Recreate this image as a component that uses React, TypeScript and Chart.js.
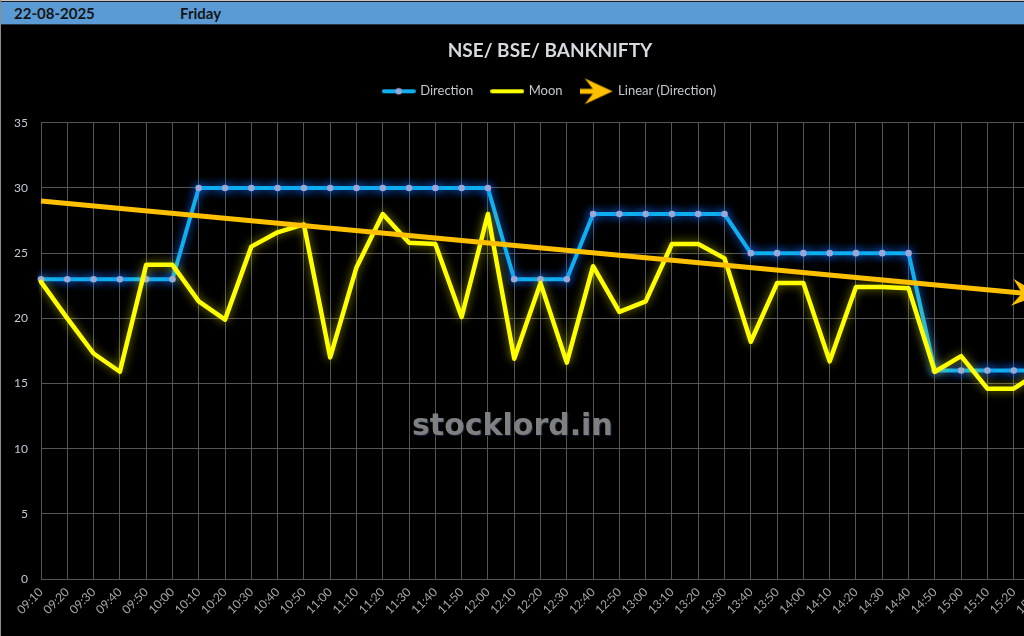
import React, { useEffect, useRef } from "react";
import { Chart, registerables } from "chart.js";

Chart.register(...registerables);

// ---------- data ----------
const headerDate = "22-08-2025";
const headerDay = "Friday";
const chartTitle = "NSE/ BSE/ BANKNIFTY";
const watermark = "stocklord.in";

const times = [
  "09:10", "09:20", "09:30", "09:40", "09:50",
  "10:00", "10:10", "10:20", "10:30", "10:40", "10:50",
  "11:00", "11:10", "11:20", "11:30", "11:40", "11:50",
  "12:00", "12:10", "12:20", "12:30", "12:40", "12:50",
  "13:00", "13:10", "13:20", "13:30", "13:40", "13:50",
  "14:00", "14:10", "14:20", "14:30", "14:40", "14:50",
  "15:00", "15:10", "15:20", "15:30",
];

const direction = [
  23, 23, 23, 23, 23,
  23, 30, 30, 30, 30, 30,
  30, 30, 30, 30, 30, 30,
  30, 23, 23, 23, 28, 28,
  28, 28, 28, 28, 25, 25,
  25, 25, 25, 25, 25, 16,
  16, 16, 16, 16,
];

const moon = [
  22.8, 20.0, 17.3, 15.9, 24.1,
  24.1, 21.3, 19.9, 25.5, 26.6, 27.2,
  17.0, 23.9, 28.0, 25.8, 25.7, 20.1,
  28.0, 16.9, 22.7, 16.6, 24.0, 20.5,
  21.3, 25.7, 25.7, 24.6, 18.2, 22.7,
  22.7, 16.7, 22.4, 22.4, 22.3, 15.9,
  17.1, 14.6, 14.6, 15.9,
];

// linear trend of Direction: value at first and last category
const trendEnds = [29.0, 21.8];

const yMin = 0;
const yMax = 35;
const yStep = 5;

const seriesNames = ["Direction", "Moon", "Linear (Direction)"];

// ---------- styles ----------
const BLUE = "#0fb0ef";
const MARKER = "#9aa6d6";
const YELLOW = "#ffff00";
const ORANGE = "#ffc000";
const GRID = "#555555";
const glowColors: Record<number, string> = {
  0: "rgba(20,110,255,0.95)",
  1: "rgba(255,255,0,0.55)",
};

function makeIcon(kind: number): HTMLCanvasElement {
  const c = document.createElement("canvas");
  if (kind === 2) {
    c.width = 34;
    c.height = 28;
    const ctx = c.getContext("2d")!;
    ctx.fillStyle = ORANGE;
    ctx.strokeStyle = ORANGE;
    ctx.lineWidth = 5;
    ctx.beginPath();
    ctx.moveTo(0, 14);
    ctx.lineTo(16, 14);
    ctx.stroke();
    ctx.beginPath();
    ctx.moveTo(33, 14);
    ctx.lineTo(5, 1);
    ctx.lineTo(15, 14);
    ctx.lineTo(5, 27);
    ctx.closePath();
    ctx.fill();
    return c;
  }
  c.width = 34;
  c.height = 12;
  const ctx = c.getContext("2d")!;
  ctx.strokeStyle = kind === 0 ? BLUE : YELLOW;
  ctx.lineWidth = 4;
  ctx.lineCap = "round";
  ctx.beginPath();
  ctx.moveTo(2, 6);
  ctx.lineTo(32, 6);
  ctx.stroke();
  if (kind === 0) {
    ctx.fillStyle = MARKER;
    ctx.beginPath();
    ctx.arc(17, 6, 3.3, 0, Math.PI * 2);
    ctx.fill();
  }
  return c;
}

const glowPlugin = {
  id: "glow",
  beforeDatasetDraw(chart: any, args: any) {
    const g = glowColors[args.index];
    if (!g) return;
    const ctx = chart.ctx;
    ctx.save();
    ctx.shadowColor = g;
    ctx.shadowBlur = 10;
  },
  afterDatasetDraw(chart: any, args: any) {
    if (!glowColors[args.index]) return;
    chart.ctx.restore();
  },
};

const arrowPlugin = {
  id: "trendArrow",
  afterDatasetsDraw(chart: any) {
    const meta = chart.getDatasetMeta(2);
    const pts = meta.data;
    if (!pts || pts.length < 2) return;
    const a = pts[0];
    const b = pts[pts.length - 1];
    const dx = b.x - a.x;
    const dy = b.y - a.y;
    const len = Math.hypot(dx, dy) || 1;
    const ux = dx / len;
    const uy = dy / len;
    const nx = -uy;
    const ny = ux;
    const L = 28;
    const H = 13.5;
    const N = 18;
    const ctx = chart.ctx;
    ctx.save();
    ctx.fillStyle = ORANGE;
    ctx.beginPath();
    ctx.moveTo(b.x, b.y);
    ctx.lineTo(b.x - L * ux + H * nx, b.y - L * uy + H * ny);
    ctx.lineTo(b.x - N * ux, b.y - N * uy);
    ctx.lineTo(b.x - L * ux - H * nx, b.y - L * uy - H * ny);
    ctx.closePath();
    ctx.fill();
    ctx.restore();
  },
};

export default function App() {
  const ref = useRef<HTMLCanvasElement>(null);

  useEffect(() => {
    if (!ref.current) return;
    Chart.defaults.font.family = "Lato";
    const icons = [makeIcon(0), makeIcon(1), makeIcon(2)];
    const lastIdx = times.length - 1;
    const trendData = times.map((_, i) =>
      i === 0 ? trendEnds[0] : i === lastIdx ? trendEnds[1] : null
    );

    const chart = new Chart(ref.current, {
      type: "line",
      data: {
        labels: times,
        datasets: [
          {
            label: seriesNames[0],
            data: direction,
            borderColor: BLUE,
            backgroundColor: BLUE,
            borderWidth: 4,
            borderJoinStyle: "round",
            borderCapStyle: "round",
            pointRadius: 3.3,
            pointBackgroundColor: MARKER,
            pointBorderColor: MARKER,
            pointBorderWidth: 0,
            tension: 0,
            order: 2,
          },
          {
            label: seriesNames[1],
            data: moon,
            borderColor: YELLOW,
            backgroundColor: YELLOW,
            borderWidth: 4.5,
            borderJoinStyle: "round",
            borderCapStyle: "round",
            pointRadius: 0,
            tension: 0,
            order: 1,
          },
          {
            label: seriesNames[2],
            data: trendData,
            borderColor: ORANGE,
            backgroundColor: ORANGE,
            borderWidth: 5,
            pointRadius: 0,
            spanGaps: true,
            tension: 0,
            order: 0,
          },
        ],
      } as any,
      options: {
        responsive: false,
        devicePixelRatio: 1,
        animation: false,
        events: [],
        layout: { padding: 0 },
        plugins: {
          tooltip: { enabled: false },
          title: {
            display: true,
            text: chartTitle,
            color: "#d6d9de",
            font: { family: "Lato", size: 19, weight: "bold", lineHeight: 1.2 },
            padding: { top: 14, bottom: 4 },
          },
          subtitle: {
            display: true,
            text: "",
            position: "top",
            weight: 500,
            font: { size: 15, lineHeight: 1 },
            padding: 0,
          } as any,
          legend: {
            display: true,
            position: "top",
            labels: {
              usePointStyle: true,
              pointStyleWidth: 30,
              padding: 19,
              color: "#c3c7ce",
              font: { family: "Lato", size: 13 },
              sort: (a: any, b: any) => a.datasetIndex - b.datasetIndex,
              generateLabels: (ch: any) => {
                const items = (Chart.defaults.plugins.legend.labels as any).generateLabels(ch);
                return items.map((it: any) => ({ ...it, pointStyle: icons[it.datasetIndex] }));
              },
            },
          },
        },
        scales: {
          x: {
            type: "category",
            offset: false,
            grid: { color: GRID, lineWidth: 1, drawTicks: false },
            border: { color: GRID },
            ticks: {
              color: "#a6a6a6",
              font: { family: "Lato", size: 12 },
              maxRotation: 45,
              minRotation: 45,
              autoSkip: false,
              padding: 6,
            },
            afterFit: (s: any) => {
              s.height = 57;
            },
          },
          y: {
            min: yMin,
            max: yMax,
            grid: { color: GRID, lineWidth: 1, drawTicks: false },
            border: { color: GRID },
            ticks: {
              stepSize: yStep,
              color: "#c2c8d4",
              font: { family: "Lato", size: 12 },
              padding: 13,
            },
            afterFit: (s: any) => {
              s.width = 41;
            },
          },
          yRight: {
            position: "right",
            display: true,
            grid: { display: false, drawTicks: false },
            border: { display: false },
            ticks: { display: false },
            afterFit: (s: any) => {
              s.width = 60;
            },
          },
        },
      } as any,
      plugins: [glowPlugin, arrowPlugin],
    });
    return () => chart.destroy();
  }, []);

  return (
    <div
      style={{
        position: "fixed",
        left: 0,
        top: 0,
        width: 1024,
        height: 636,
        overflow: "hidden",
        background: "#000",
      }}
    >
      <div style={{ position: "absolute", left: 0, top: 0, width: 1024, height: 1, background: "#c4c4c4" }} />
      <div style={{ position: "absolute", left: 0, top: 1, width: 1024, height: 1, background: "#1e1e1e" }} />
      <div
        style={{
          position: "absolute",
          left: 0,
          top: 2,
          width: 1024,
          height: 22,
          background: "#5b9bd5",
          fontFamily: "Lato",
          fontWeight: "bold",
          fontSize: 15,
          lineHeight: "22px",
          color: "#151515",
        }}
      >
        <span style={{ position: "absolute", left: 14, top: 0 }}>{headerDate}</span>
        <span style={{ position: "absolute", left: 180, top: 0 }}>{headerDay}</span>
      </div>
      <div style={{ position: "absolute", left: 0, top: 24, width: 1024, height: 1, background: "#2a3644" }} />
      <canvas
        ref={ref}
        width={1100}
        height={611}
        style={{ position: "absolute", left: 0, top: 25, width: 1100, height: 611 }}
      />
      <div
        style={{
          position: "absolute",
          left: 412,
          top: 410,
          fontFamily: "DejaVu Sans",
          fontWeight: "bold",
          fontSize: 30,
          lineHeight: "30px",
          color: "#808080",
          textShadow: "1px 1px 1px #16243c",
          whiteSpace: "nowrap",
          pointerEvents: "none",
        }}
      >
        {watermark}
      </div>
      <div style={{ position: "absolute", left: 0, top: 0, width: 1, height: 636, background: "#8c8c8c" }} />
    </div>
  );
}
